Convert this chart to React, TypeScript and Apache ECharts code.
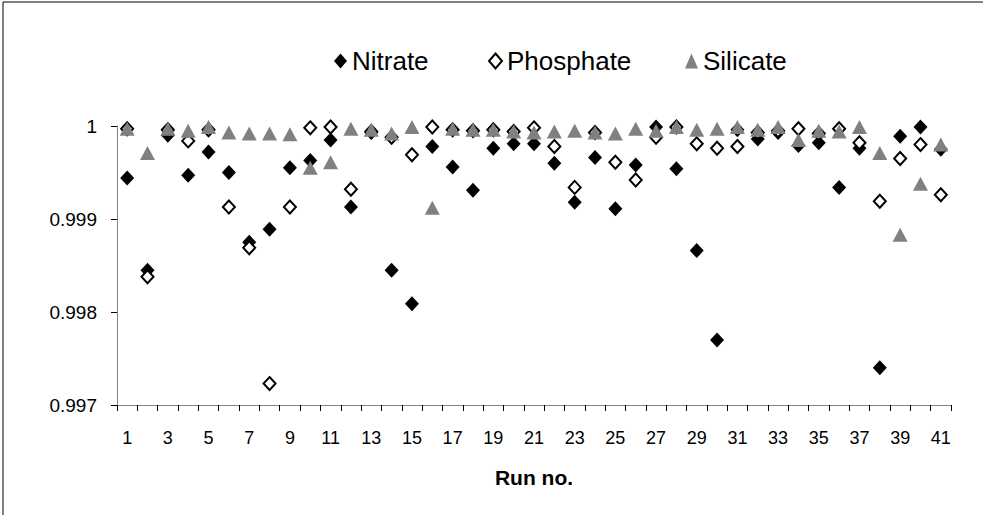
import React, { useEffect, useRef } from "react";
import * as echarts from "echarts";

const runs = [
  "1", "2", "3", "4", "5", "6", "7", "8", "9", "10",
  "11", "12", "13", "14", "15", "16", "17", "18", "19", "20",
  "21", "22", "23", "24", "25", "26", "27", "28", "29", "30",
  "31", "32", "33", "34", "35", "36", "37", "38", "39", "40", "41",
];

const nitrate = [
  0.99944, 0.99845, 0.9999, 0.99947, 0.99972, 0.9995, 0.99875, 0.99889, 0.99955, 0.99963,
  0.99985, 0.99913, 0.99993, 0.99845, 0.99809, 0.99978, 0.99956, 0.99931, 0.99976, 0.99981,
  0.99981, 0.9996, 0.99918, 0.99966, 0.99911, 0.99958, 0.99999, 0.99954, 0.99866, 0.9977,
  0.99996, 0.99986, 0.99993, 0.99979, 0.99982, 0.99934, 0.99976, 0.9974, 0.99989, 0.99999, 0.99975,
];

const phosphate = [
  0.99997, 0.99838, 0.99996, 0.99984, 0.99996, 0.99913, 0.99869, 0.99723, 0.99913, 0.99998,
  0.99999, 0.99932, 0.99994, 0.99988, 0.99969, 0.99999, 0.99996, 0.99995, 0.99996, 0.99994,
  0.99998, 0.99978, 0.99934, 0.99993, 0.99961, 0.99942, 0.99988, 0.99999, 0.99981, 0.99976,
  0.99978, 0.99993, 0.99995, 0.99997, 0.99992, 0.99997, 0.99982, 0.99919, 0.99965, 0.9998, 0.99926,
];

const silicate = [
  0.99997, 0.99971, 0.99997, 0.99995, 0.99999, 0.99993, 0.99992, 0.99992, 0.99991, 0.99955,
  0.99961, 0.99997, 0.99996, 0.99992, 0.99999, 0.99912, 0.99997, 0.99996, 0.99996, 0.99994,
  0.99993, 0.99994, 0.99995, 0.99993, 0.99992, 0.99997, 0.99995, 0.99999, 0.99996, 0.99997,
  0.99999, 0.99996, 0.99999, 0.99985, 0.99995, 0.99994, 0.99999, 0.99971, 0.99883, 0.99938, 0.9998,
];

const yTicks = { min: 0.997, max: 1, interval: 0.001 };

const FONT = "'Liberation Sans', Arial, sans-serif";

const legendBase = {
  top: 43,
  itemWidth: 13,
  itemHeight: 15,
  itemGap: 10,
  textStyle: { fontFamily: FONT, fontSize: 26, color: "#000" },
};

export default function App() {
  const ref = useRef<HTMLDivElement>(null);

  useEffect(() => {
    if (!ref.current) return;
    const chart = echarts.init(ref.current, null, { renderer: "svg" });
    chart.setOption({
      animation: false,
      backgroundColor: "#ffffff",
      textStyle: { fontFamily: FONT, color: "#000" },
      graphic: [
        {
          type: "rect",
          shape: { x: 3, y: 2, width: 1200, height: 700 },
          style: { fill: "none", stroke: "#000", lineWidth: 1 },
          silent: true,
        },
      ],
      legend: [
        { ...legendBase, left: 329, data: [{ name: "Nitrate", icon: "diamond" }] },
        { ...legendBase, left: 483, data: [{ name: "Phosphate", icon: "diamond" }] },
        { ...legendBase, left: 680, data: [{ name: "Silicate", icon: "triangle" }] },
      ],
      grid: { left: 117, right: 32, top: 126, bottom: 110, containLabel: false },
      xAxis: {
        type: "category",
        data: runs,
        boundaryGap: true,
        name: "Run no.",
        nameLocation: "middle",
        nameGap: 62,
        nameTextStyle: { fontFamily: FONT, fontSize: 21, fontWeight: "bold", color: "#000" },
        axisLine: { lineStyle: { color: "#808080", width: 1 } },
        axisTick: { show: true, interval: 0, length: 6, lineStyle: { color: "#000" } },
        axisLabel: { interval: 1, margin: 24, fontFamily: FONT, fontSize: 18, color: "#000" },
        splitLine: { show: false },
      },
      yAxis: {
        type: "value",
        min: yTicks.min,
        max: yTicks.max,
        interval: yTicks.interval,
        axisLine: { show: true, lineStyle: { color: "#808080", width: 1 } },
        axisTick: { show: true, length: 6, inside: false, lineStyle: { color: "#000" } },
        axisLabel: {
          margin: 20,
          fontFamily: FONT,
          fontSize: 19,
          color: "#000",
          formatter: (v: number) => String(parseFloat(v.toFixed(3))),
        },
        splitLine: { show: false },
      },
      series: [
        {
          name: "Nitrate",
          type: "scatter",
          data: nitrate,
          symbol: "diamond",
          symbolSize: [14, 15],
          itemStyle: { color: "#000000", opacity: 1 },
          z: 2,
        },
        {
          name: "Phosphate",
          type: "scatter",
          data: phosphate,
          symbol: "diamond",
          symbolSize: [12, 13],
          itemStyle: { color: "#ffffff", borderColor: "#000000", borderWidth: 2, opacity: 1 },
          z: 3,
        },
        {
          name: "Silicate",
          type: "scatter",
          data: silicate,
          symbol: "triangle",
          symbolSize: [15, 14],
          itemStyle: { color: "#808080", opacity: 1 },
          z: 4,
        },
      ],
    });
    return () => chart.dispose();
  }, []);

  return (
    <div
      ref={ref}
      style={{ position: "fixed", left: 0, top: 0, width: 983, height: 515, background: "#fff" }}
    />
  );
}
